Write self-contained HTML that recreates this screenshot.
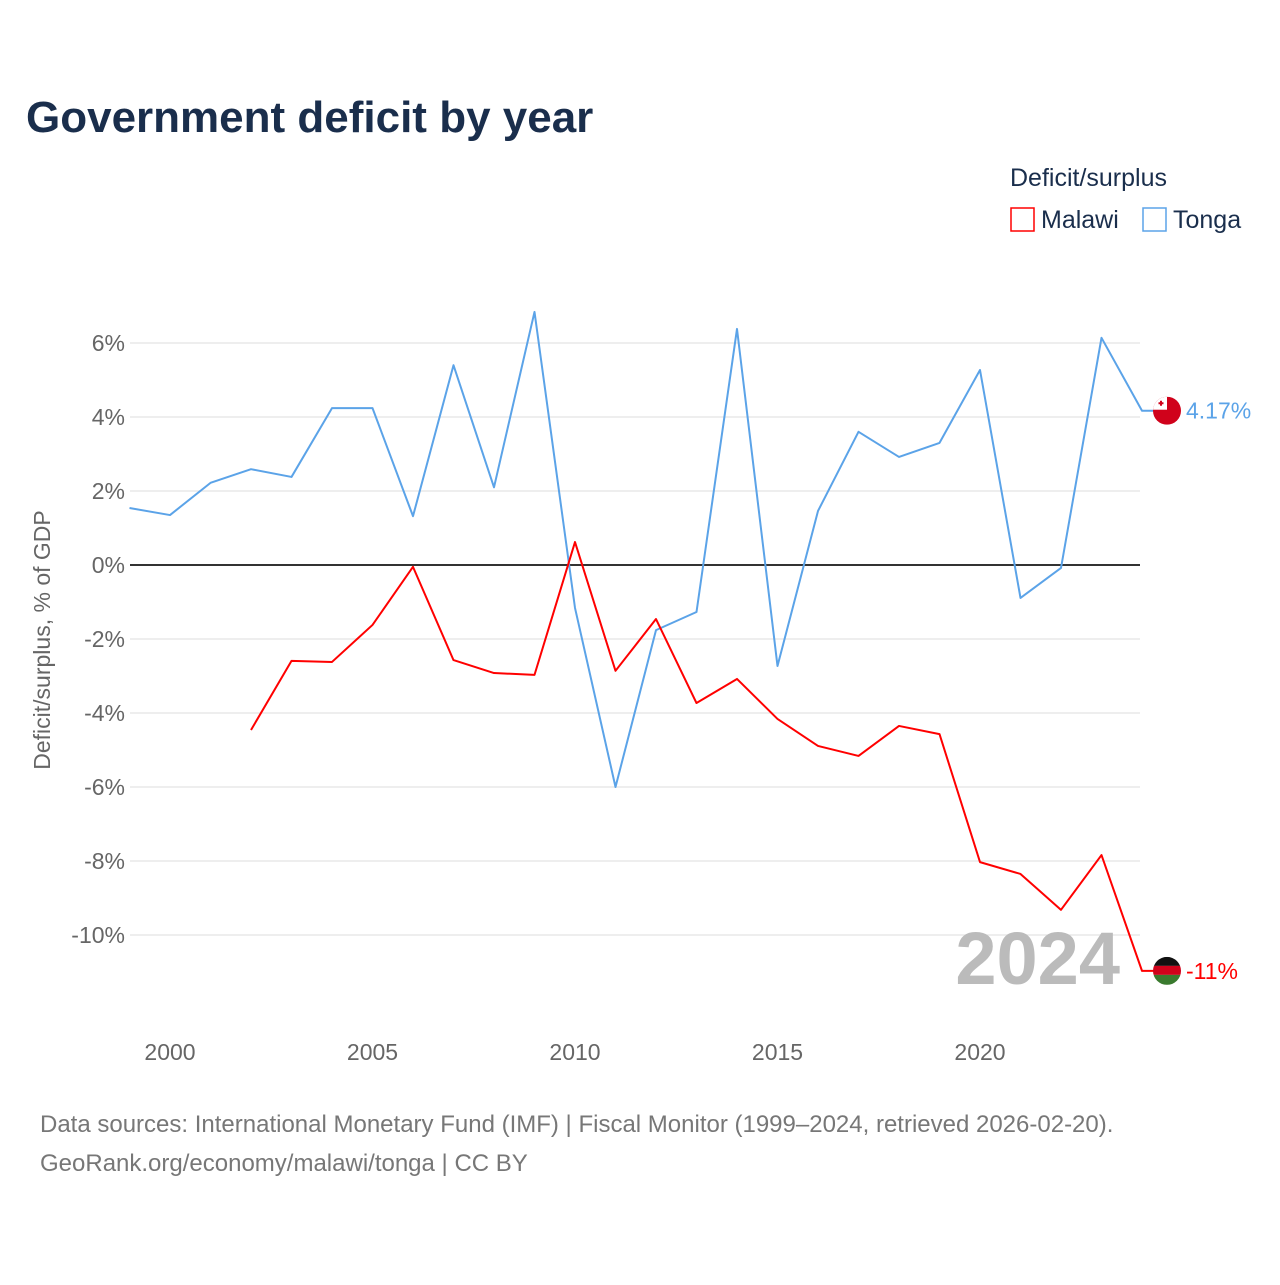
<!DOCTYPE html>
<html><head><meta charset="utf-8"><style>
body{margin:0;background:#fff;font-family:"Liberation Sans",sans-serif}
</style></head><body>
<svg id="chart" width="1280" height="1280" xmlns="http://www.w3.org/2000/svg" font-family="Liberation Sans, sans-serif">
<defs><clipPath id="tc"><circle cx="1167" cy="410" r="14"/></clipPath><clipPath id="mc"><circle cx="1167" cy="971" r="14"/></clipPath></defs>
<text x="26" y="132" font-size="44" font-weight="bold" fill="#1a2e4c">Government deficit by year</text>
<text x="1010" y="186" font-size="25" fill="#1a2e4c">Deficit/surplus</text>
<g><rect x="1011" y="208" width="23" height="23" fill="none" stroke="#f00" stroke-width="1.5"/><text x="1041" y="228" font-size="25" fill="#1a2e4c">Malawi</text></g>
<g><rect x="1143" y="208" width="23" height="23" fill="none" stroke="#5ba3e8" stroke-width="1.5"/><text x="1173" y="228" font-size="25" fill="#1a2e4c">Tonga</text></g>
<text transform="translate(50,640) rotate(-90)" text-anchor="middle" font-size="23" fill="#666">Deficit/surplus, % of GDP</text>
<g id="grid"></g><g id="yticks"></g><g id="xticks"></g>
<text x="1120" y="984" text-anchor="end" font-size="74" font-weight="bold" fill="#bbb">2024</text>
<g id="series"></g>
<text x="40" y="1132" font-size="24" fill="#777">Data sources: International Monetary Fund (IMF) | Fiscal Monitor (1999–2024, retrieved 2026-02-20).</text>
<text x="40" y="1171" font-size="24" fill="#777">GeoRank.org/economy/malawi/tonga | CC BY</text>
</svg>
<script>
const years=[1999,2000,2001,2002,2003,2004,2005,2006,2007,2008,2009,2010,2011,2012,2013,2014,2015,2016,2017,2018,2019,2020,2021,2022,2023,2024];
const tonga=[1.54,1.35,2.22,2.59,2.38,4.24,4.24,1.32,5.4,2.1,6.84,-1.16,-6,-1.76,-1.27,6.38,-2.73,1.46,3.6,2.92,3.3,5.27,-0.89,-0.08,6.14,4.17];
const malawi=[null,null,null,-4.46,-2.59,-2.62,-1.62,-0.05,-2.57,-2.92,-2.97,0.62,-2.86,-1.46,-3.73,-3.08,-4.16,-4.89,-5.16,-4.35,-4.57,-8.03,-8.35,-9.32,-7.84,-10.97];
const yTicks=[6,4,2,0,-2,-4,-6,-8,-10];
const xTicks=[2000,2005,2010,2015,2020];
const NS="http://www.w3.org/2000/svg";
const x=v=>170+(v-2000)*40.5;
const y=v=>565-v*37;
function mk(t,a,p){const e=document.createElementNS(NS,t);for(const k in a)e.setAttribute(k,a[k]);document.getElementById(p).appendChild(e);return e;}
yTicks.forEach(t=>{
 const l=mk('line',{x1:130,x2:1140,y1:y(t),y2:y(t),stroke:t===0?'#333':'#e8e8e8','stroke-width':t===0?2:1.5},'grid');
 
 
 const s=mk('text',{x:125,y:y(t)+8,'text-anchor':'end','font-size':23,fill:'#666'},'yticks');
 s.textContent=t+'%';
 
 
});
xTicks.forEach(t=>{
 const s=mk('text',{x:x(t),y:1060,'text-anchor':'middle','font-size':23,fill:'#666'},'xticks');
 s.textContent=t;
 
 
});
function line(vals,col,name){
 let d='';vals.forEach((v,i)=>{if(v===null)return;d+=(d?'L':'M')+x(years[i])+','+y(v);});
 const last=vals[vals.length-1];
 d+='L'+(x(2024)+25)+','+y(last);
 const p=mk('path',{d:d,fill:'none',stroke:col,'stroke-width':2,'stroke-linejoin':'round'},'series');
 
 
 return last;
}
const tl=line(tonga,'#5ba3e8','tonga');
const ml=line(malawi,'#f00','malawi');
const ty=y(tl), my=y(ml);
document.querySelector('#tc circle').setAttribute('cy',ty);
document.querySelector('#mc circle').setAttribute('cy',my);
let c=mk('rect',{x:1153,y:ty-14,width:28,height:28,fill:'#d0021b','clip-path':'url(#tc)'},'series');


let r=mk('rect',{x:1152,y:ty-14,width:15,height:13,fill:'#fff','clip-path':'url(#tc)'},'series');


let cr=mk('path',{d:`M1161,${ty-10}v5M1158.5,${ty-7.5}h5`,stroke:'#d0021b','stroke-width':2},'series');


let t=mk('text',{x:1186,y:ty+8,'font-size':23,fill:'#5ba3e8'},'series');
t.textContent=tl.toFixed(2)+'%';


[['#111',-14],['#d0021b',-5],['#3a7a2e',4]].forEach(([f,o])=>{
 const b=mk('rect',{x:1153,y:my+o,width:28,height:o===4?10:9,fill:f,'clip-path':'url(#mc)'},'series');
 
 
});
let t2=mk('text',{x:1186,y:my+8,'font-size':23,fill:'#f00'},'series');
t2.textContent=Math.round(ml)+'%';


</script>
</body></html>
